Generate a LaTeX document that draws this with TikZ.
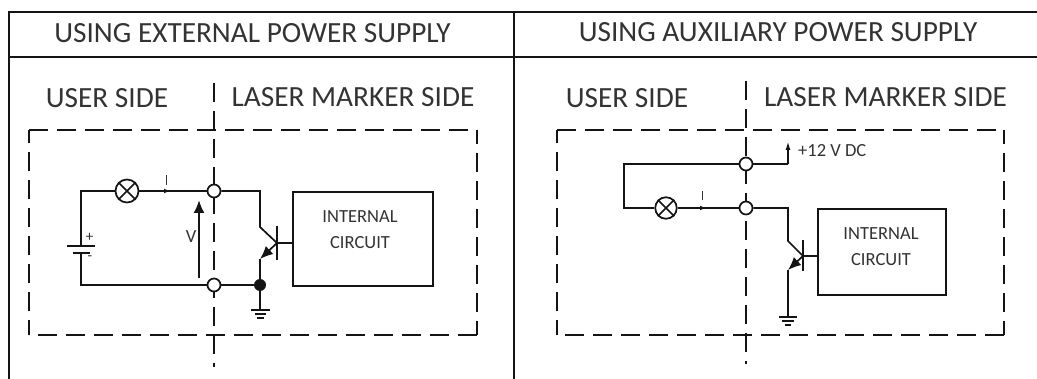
\documentclass[tikz,border=0pt]{standalone}
\usepackage{fontspec}
\setmainfont{Carlito}
\usetikzlibrary{arrows.meta}
\definecolor{ink}{HTML}{141414}
\definecolor{txt}{HTML}{333333}
\tikzset{
  x=1pt,y=-1pt,
  wire/.style={draw=ink,line width=1.7pt},
  grid/.style={draw=ink,line width=1.5pt},
  dashline/.style={draw=ink,line width=2pt,dash pattern=on 19pt off 9pt},
  term/.style={circle,draw=ink,fill=white,line width=1.7pt,minimum size=13pt,inner sep=0pt},
  dotj/.style={circle,fill=ink,minimum size=12pt,inner sep=0pt},
  lamp/.style={circle,draw=ink,fill=white,line width=1.7pt,minimum size=23pt,inner sep=0pt},
  cbox/.style={draw=ink,line width=1.7pt,fill=white,inner sep=0pt,anchor=north west},
  title/.style={text=txt,font=\fontsize{29.3}{32}\selectfont,inner sep=0pt},
  small/.style={text=txt,font=\fontsize{18.5}{21}\selectfont,inner sep=0pt},
  tiny/.style={text=txt,font=\fontsize{15}{17}\selectfont,inner sep=0pt},
  bigtip/.style={-{Latex[length=13pt,width=11pt]}},
  midtip/.style={-{Latex[length=13pt,width=11pt]}},
  smalltip/.style={-{Latex[length=6pt,width=5pt]}},
}
\newcommand{\lampx}[1]{\draw[wire] (#1.45)--(#1.225) (#1.135)--(#1.315);}
\begin{document}
\begin{tikzpicture}
\useasboundingbox (0,0) rectangle (1037,379);
% table
\coordinate (tl) at (9,12); \coordinate (tr) at (1037,12);
\coordinate (hl) at (9,57); \coordinate (hr) at (1037,57);
\coordinate (ml) at (9,379); \coordinate (mt) at (514,12); \coordinate (mb) at (514,379);
\draw[grid] (ml)--(tl)--(tr) (hl)--(hr) (mt)--(mb);
\node[title] (t1) at (252.5,33) {USING EXTERNAL POWER SUPPLY};
\node[title] (t2) at (778,32) {USING AUXILIARY POWER SUPPLY};
\node[title] (u1) at (107,98) {USER SIDE};
\node[title] (l1) at (353,97) {LASER MARKER SIDE};
\node[title] (u2) at (627,98) {USER SIDE};
\node[title] (l2) at (885.5,97) {LASER MARKER SIDE};

% LEFT dashed frame
\coordinate (a1) at (29,130); \coordinate (a2) at (477,130);
\coordinate (a3) at (477,335); \coordinate (a4) at (29,335);
\coordinate (d1) at (214,83); \coordinate (d2) at (214,367);
\draw[dashline] (a1)--(a2);
\draw[dashline,dash phase=5pt] (a2)--(a3);
\draw[dashline] (a3)--(a4);
\draw[dashline,dash phase=4pt] (a4)--(a1);
\draw[dashline] (d1)--(d2);

% LEFT circuit
\node[term] (ct) at (214,191) {};
\node[term] (cb) at (214,285) {};
\node[lamp] (lp) at (127,191) {};
\lampx{lp}
\node[cbox,minimum width=140pt,minimum height=94pt] (bx) at (292,191) {};
\node[small] at (360,217) {INTERNAL};
\node[small] at (360,243) {CIRCUIT};
\coordinate (w1) at (81,191); \coordinate (w2) at (81,285);
\coordinate (bp) at (81,246); \coordinate (bm) at (81,253);
\draw[wire] (lp)--(w1)--(bp) (bm)--(w2)--(cb);
\coordinate (bp1) at (67,246); \coordinate (bp2) at (95,246);
\coordinate (bm1) at (73,253); \coordinate (bm2) at (90,253);
\draw[wire] (bp1)--(bp2) (bm1)--(bm2);
\node[tiny] at (89.5,237) {+};
\node[tiny] at (90,258) {-};
\draw[wire] (lp)--(ct);
\coordinate (ia) at (160,191); \coordinate (ib) at (170,191);
\draw[wire,smalltip] (ia)--(ib);
\coordinate (il) at (166,175); \coordinate (il2) at (166,185);
\draw[draw=txt,line width=1pt] (il)--(il2);
\coordinate (v1) at (199,278); \coordinate (v2) at (199,200);
\draw[wire,line width=2pt,bigtip] (v1)--(v2);
\node[small] at (191,237) {V};
% transistor
\coordinate (c1) at (260,191); \coordinate (c2) at (260,227);
\coordinate (tb) at (277,243); \coordinate (e2) at (260,259); \coordinate (e3) at (260,285);
\coordinate (bar1) at (277,226); \coordinate (bar2) at (277,260);
\coordinate (g) at (260,310);
\draw[wire] (ct)--(c1)--(c2)--(tb);
\draw[wire] (bar1)--(bar2);
\draw[wire] (tb)--(bx.west|-tb);
\draw[wire,midtip] (tb)--(e2);
\draw[wire] (e2)--(e3);
\node[dotj] (dj) at (e3) {};
\draw[wire] (cb)--(dj)--(g);
\draw[wire] (251,310)--(270,310) (254.5,314)--(266,314) (257,318)--(263.5,318);

% RIGHT dashed frame
\coordinate (b1) at (557,130); \coordinate (b2) at (1004,130);
\coordinate (b3) at (1004,335); \coordinate (b4) at (557,335);
\coordinate (e1) at (746,81); \coordinate (e9) at (746,364);
\draw[dashline] (b1)--(b2);
\draw[dashline,dash phase=5pt] (b2)--(b3);
\draw[dashline] (b3)--(b4);
\draw[dashline,dash phase=4pt] (b4)--(b1);
\draw[dashline] (e1)--(e9);

% RIGHT circuit
\node[term] (rt) at (746,164) {};
\node[term] (rb) at (746,208) {};
\node[lamp,minimum size=21.5pt] (rl) at (666,208) {};
\lampx{rl}
\node[cbox,minimum width=128pt,minimum height=86pt] (rx) at (817,208) {};
\node[small] at (881,234) {INTERNAL};
\node[small] at (881,260) {CIRCUIT};
\coordinate (rw1) at (624,164); \coordinate (rw2) at (624,208);
\draw[wire] (rt)--(rw1)--(rw2)--(rl);
\draw[wire] (rl)--(rb);
\draw[wire,smalltip] (698,208)--(706,208);
\draw[draw=txt,line width=1pt] (702,191)--(702,200);
\coordinate (p1) at (788,164); \coordinate (p2) at (788,141);
\draw[wire] (rt)--(p1);
\draw[wire,-{Latex[length=9pt,width=5pt]}] (p1)--(p2);
\node[small,anchor=west] at (798,151) {+12 V DC};
\coordinate (rc1) at (788,208); \coordinate (rc2) at (788,241);
\coordinate (rtb) at (803,256); \coordinate (re2) at (788,270); \coordinate (rg) at (788,317);
\coordinate (rbar1) at (803,240); \coordinate (rbar2) at (803,271);
\draw[wire] (rb)--(rc1)--(rc2)--(rtb);
\draw[wire] (rbar1)--(rbar2);
\draw[wire] (rtb)--(rx.west|-rtb);
\draw[wire,midtip] (rtb)--(re2);
\draw[wire] (re2)--(rg);
\draw[wire] (779,317)--(797,317) (782,321)--(794,321) (785,325)--(791,325);
\end{tikzpicture}
\end{document}
